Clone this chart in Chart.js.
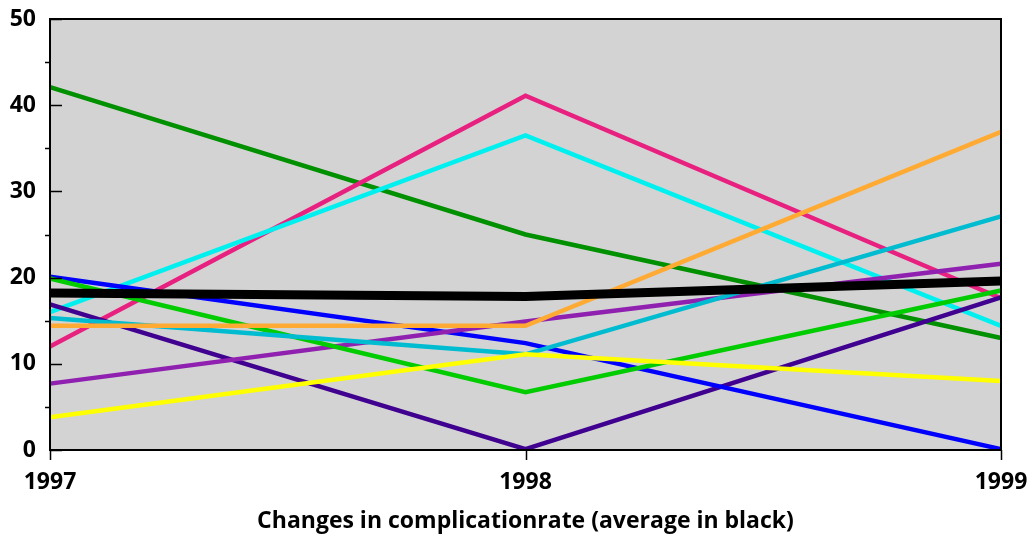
<!DOCTYPE html>
<html>
<head>
<meta charset="utf-8">
<script src="https://cdn.jsdelivr.net/npm/chart.js@4"></script>
<style>
  html, body { margin: 0; padding: 0; background: #fff; }
  #wrap { width: 1031px; height: 535px; }
</style>
</head>
<body>
<div id="wrap"><canvas id="rateChart"></canvas></div>
<script>
// years on the x axis
var years = ['1997', '1998', '1999'];

// one series per unit, average last
var darkGreen = [42.1, 25.0, 13.0];
var pink      = [12.0, 41.1, 17.6];
var cyan      = [16.0, 36.5, 14.4];
var orange    = [14.4, 14.4, 36.9];
var teal      = [15.3, 11.1, 27.1];
var purple    = [7.7, 14.9, 21.6];
var blue      = [20.1, 12.4, 0.1];
var lime      = [19.9, 6.7, 18.5];
var yellow    = [3.8, 11.1, 8.0];
var indigo    = [16.9, 0.1, 17.7];
var average   = [18.2, 17.8, 19.6];

var yTicks = [0, 10, 20, 30, 40, 50];

var tickFont = { family: 'Open Sans', size: 23, weight: 'bold' };

// grey plot area, black frame and the little tick marks
var frame = {
    id: 'frame',
    beforeDatasetsDraw: function (chart) {
        var a = chart.chartArea, c = chart.ctx;
        c.save();
        c.fillStyle = '#d3d3d3';
        c.fillRect(a.left, a.top, a.right - a.left, a.bottom - a.top);
        c.restore();
    },
    afterDatasetsDraw: function (chart) {
        var a = chart.chartArea, c = chart.ctx;
        var ys = chart.scales.y, xs = chart.scales.x;
        c.save();
        c.strokeStyle = '#000';
        c.lineWidth = 2;
        c.strokeRect(a.left, a.top, a.right - a.left, a.bottom - a.top);
        c.lineWidth = 1.5;
        c.beginPath();
        for (var v = 0; v <= 50; v += 5) {
            var py = Math.round(ys.getPixelForValue(v)) + 0.5;
            if (v % 10 === 0) {
                c.moveTo(a.left, py); c.lineTo(a.left + 12, py);
            } else {
                c.moveTo(a.left - 5, py); c.lineTo(a.left, py);
            }
        }
        for (var i = 0; i < years.length; i++) {
            var px = Math.round(xs.getPixelForValue(i)) + 0.5;
            c.moveTo(px, a.bottom); c.lineTo(px, a.bottom + 10);
        }
        c.stroke();
        c.restore();
    }
};

function line(data, color, w) {
    return {
        data: data,
        borderColor: color,
        borderWidth: w || 4.5,
        pointRadius: 0,
        tension: 0,
        fill: false
    };
}

var ctx = document.getElementById('rateChart').getContext('2d');
window.rateChart = new Chart(ctx, {
    type: 'line',
    data: {
        labels: years,
        datasets: [
            line(average, '#000000', 9),
            line(yellow, '#ffff00'),
            line(orange, '#ffaa33'),
            line(teal, '#00bcd0'),
            line(lime, '#00cc00'),
            line(purple, '#9020b0'),
            line(blue, '#0000ff'),
            line(indigo, '#400090'),
            line(cyan, '#00f0f0'),
            line(pink, '#e8207f'),
            line(darkGreen, '#009000')
        ]
    },
    options: {
        responsive: true,
        maintainAspectRatio: false,
        animation: false,
        layout: { padding: { top: 19, right: 30, left: 0, bottom: 0 } },
        plugins: {
            legend: { display: false },
            tooltip: { enabled: false }
        },
        scales: {
            x: {
                offset: false,
                afterFit: function (scale) {
                    scale.height = 85;
                    scale.paddingLeft = 0;
                    scale.paddingRight = 0;
                },
                grid: { display: false, drawTicks: false },
                border: { display: false },
                ticks: {
                    color: '#000',
                    padding: 19,
                    maxRotation: 0,
                    font: tickFont
                },
                title: {
                    display: true,
                    text: 'Changes in complicationrate (average in black)',
                    color: '#000',
                    padding: { top: 8, bottom: 0 },
                    font: tickFont
                }
            },
            y: {
                min: 0,
                max: 50,
                afterFit: function (scale) {
                    scale.width = 50;
                    scale.paddingTop = 0;
                    scale.paddingBottom = 0;
                },
                afterBuildTicks: function (scale) {
                    scale.ticks = yTicks.map(function (v) { return { value: v }; });
                },
                grid: { display: false, drawTicks: false },
                border: { display: false },
                ticks: {
                    color: '#000',
                    padding: 14,
                    font: tickFont
                }
            }
        }
    },
    plugins: [frame]
});
</script>
</body>
</html>
